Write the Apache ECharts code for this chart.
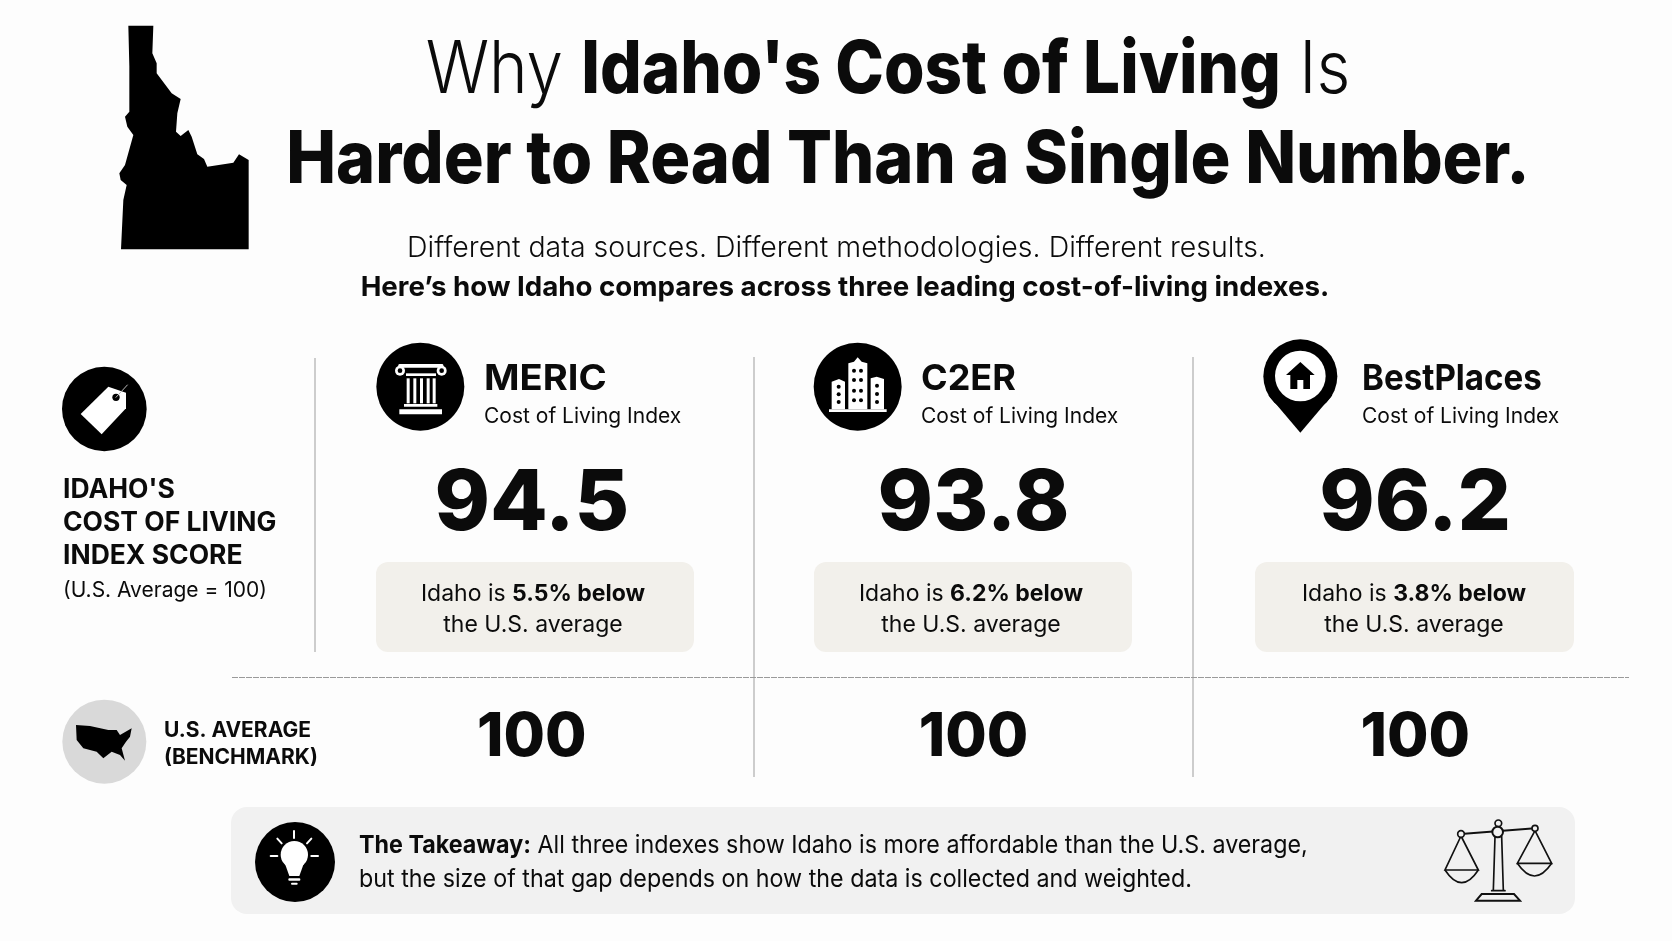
<!DOCTYPE html>
<html>
<head>
<meta charset="utf-8">
<style>
html, body { margin: 0; padding: 0; background: #fdfdfd; }
#main { width: 1672px; height: 941px; }
</style>
<script src="https://cdn.jsdelivr.net/npm/echarts@6/dist/echarts.min.js"></script>
</head>
<body>
<div id="main"></div>
<script>
var sources = ['MERIC', 'C2ER', 'BestPlaces'];
var scores = [94.5, 93.8, 96.2];
var benchmark = [100, 100, 100];
var gaps = ['5.5%', '6.2%', '3.8%'];
var rows = ['score', 'benchmark'];

var FONT = 'Inter';
var INK = '#0b0b0b';

var chart = echarts.init(document.getElementById('main'));

function txt(x, y, text, size, weight, extra) {
	var style = {
		text: text,
		fontFamily: FONT,
		fontSize: size,
		fontWeight: weight,
		fill: INK,
		align: 'left',
		verticalAlign: 'middle'
	};
	for (var k in (extra || {})) {
		style[k] = extra[k];
	}
	return { type: 'text', x: x, y: y, scaleX: (extra && extra.sx) || 1, style: style, silent: true };
}

function rect(x, y, w, h, r, fill) {
	return { type: 'rect', shape: { x: x, y: y, width: w, height: h, r: r }, style: { fill: fill }, silent: true };
}

function vline(x, y1, y2) {
	return { type: 'line', shape: { x1: x, y1: y1, x2: x, y2: y2 }, style: { stroke: '#bdbdbd', lineWidth: 1.5 }, silent: true };
}

function circle(cx, cy, r, fill) {
	return { type: 'circle', shape: { cx: cx, cy: cy, r: r }, style: { fill: fill }, silent: true };
}

function ring(cx, cy, r, color, width, fill) {
	return { type: 'circle', shape: { cx: cx, cy: cy, r: r }, style: { fill: fill, stroke: color, lineWidth: width }, silent: true };
}

function poly(points, fill) {
	return { type: 'polygon', shape: { points: points }, style: { fill: fill }, silent: true };
}

function stroke(points, color, width) {
	return { type: 'polyline', shape: { points: points }, style: { stroke: color, lineWidth: width, fill: 'none', lineCap: 'round' }, silent: true };
}

function bowl(x1, x2, y, depth, color, width) {
	return {
		type: 'bezierCurve',
		shape: { x1: x1, y1: y, x2: x2, y2: y, cpx1: (x1 + x2) / 2, cpy1: y + depth * 2 },
		style: { stroke: color, lineWidth: width, fill: 'none' },
		silent: true
	};
}

// icons are traced in crop coordinates, so the group scales them back down
function traced(x, y, children) {
	return { type: 'group', x: x, y: y, scaleX: 1 / 3, scaleY: 1 / 3, children: children };
}

var idaho = traced(90, 0, [poly([
	[115, 77], [190, 77], [187, 160], [200, 190], [200, 220], [245, 280], [272, 297], [262, 340],
	[258, 395], [272, 408], [295, 390], [305, 410], [322, 463], [342, 477], [352, 500], [430, 488],
	[447, 463], [476, 480], [476, 748], [93, 748], [100, 600], [110, 555], [92, 540], [88, 520],
	[105, 495], [130, 405], [112, 380], [105, 350], [118, 335], [118, 200]
], '#000')]);

var tagIcon = traced(40, 340, [
	circle(193, 207, 127, '#000'),
	poly([[122, 222], [205, 140], [258, 158], [258, 205], [185, 283]], '#fff'),
	circle(228, 172, 11, '#000'),
	stroke([[228, 172], [262, 135]], '#bbb', 3)
]);

var usIcon = traced(40, 340, [
	circle(193, 1205, 126, '#d9d9d9'),
	poly([
		[108, 1155], [150, 1158], [205, 1170], [230, 1170], [240, 1185], [275, 1165], [270, 1190],
		[258, 1205], [245, 1225], [255, 1262], [240, 1245], [215, 1235], [190, 1255], [170, 1235],
		[130, 1225], [110, 1200]
	], '#000')
]);

var columnIcon = traced(40, 340, [
	circle(1141, 140, 132, '#000'),
	rect(1075, 72, 135, 11, 4, '#fff'),
	circle(1080, 92, 15, '#fff'), circle(1080, 92, 7, '#000'),
	circle(1205, 92, 15, '#fff'), circle(1205, 92, 7, '#000'),
	rect(1098, 100, 90, 8, 0, '#fff'),
	rect(1100, 115, 9, 75, 0, '#fff'), rect(1120, 115, 9, 75, 0, '#fff'),
	rect(1140, 115, 9, 75, 0, '#fff'), rect(1160, 115, 9, 75, 0, '#fff'), rect(1178, 115, 9, 75, 0, '#fff'),
	rect(1092, 192, 100, 8, 0, '#fff'),
	rect(1078, 208, 128, 15, 0, '#fff')
]);

function windows(xs, ys) {
	var out = [];
	xs.forEach(function (x) {
		ys.forEach(function (y) {
			out.push(circle(x, y, 6, '#000'));
		});
	});
	return out;
}

var buildingIcon = traced(780, 330, [
	circle(233, 170, 132, '#000'),
	poly([[155, 155], [177, 147], [195, 155], [195, 238], [155, 238]], '#fff'),
	poly([[205, 100], [222, 95], [233, 82], [245, 95], [262, 100], [262, 238], [205, 238]], '#fff'),
	poly([[272, 145], [290, 140], [312, 147], [312, 238], [272, 238]], '#fff'),
	rect(147, 238, 173, 8, 0, '#fff')
].concat(windows([176], [170, 193, 216]), windows([222, 243], [122, 150, 182, 211]), windows([291], [167, 192, 216])));

var pinIcon = traced(1240, 330, [
	circle(181, 139, 111, '#000'),
	poly([[85, 195], [277, 195], [181, 308]], '#000'),
	circle(181, 138, 76, '#fff'),
	poly([[138, 135], [181, 96], [224, 135], [210, 135], [210, 177], [190, 177], [190, 150], [172, 150], [172, 177], [151, 177], [151, 135]], '#000')
]);

var bulbIcon = traced(245, 812, [
	circle(150, 150, 120, '#000'),
	circle(148, 128, 41, '#fff'),
	poly([[118, 150], [178, 150], [163, 192], [133, 192]], '#fff'),
	rect(130, 199, 36, 7, 3, '#fff'),
	rect(138, 212, 20, 6, 3, '#fff'),
	stroke([[147, 57], [147, 78]], '#fff', 6),
	stroke([[97, 80], [110, 94]], '#fff', 6),
	stroke([[199, 80], [186, 94]], '#fff', 6),
	stroke([[77, 132], [97, 132]], '#fff', 6),
	stroke([[199, 132], [219, 132]], '#fff', 6)
]);

var scaleIcon = traced(1430, 810, [
	stroke([[93, 72], [315, 55]], '#111', 6),
	stroke([[93, 78], [45, 180], [145, 180], [93, 78]], '#111', 5),
	bowl(45, 145, 180, 38, '#111', 5),
	stroke([[315, 62], [262, 160], [365, 160], [315, 62]], '#111', 5),
	bowl(262, 365, 160, 38, '#111', 5),
	stroke([[195, 80], [190, 240]], '#111', 5),
	stroke([[215, 80], [220, 240]], '#111', 5),
	stroke([[185, 242], [225, 242]], '#111', 5),
	{ type: 'polygon', shape: { points: [[155, 252], [252, 252], [270, 272], [138, 272]] }, style: { fill: '#f1f1f1', stroke: '#111', lineWidth: 6 }, silent: true },
	ring(205, 40, 10, '#111', 5, '#f1f1f1'),
	ring(203, 66, 16, '#111', 6, '#f1f1f1'),
	ring(93, 72, 10, '#111', 5, '#f1f1f1'),
	ring(315, 55, 9, '#111', 5, '#f1f1f1')
]);

var cols = [
	{ iconText: 484, sx: 1.06, box: 376, boxW: 318, mid: 533 },
	{ iconText: 921, sx: 1, box: 814, boxW: 318, mid: 971 },
	{ iconText: 1362, sx: 0.92, box: 1255, boxW: 319, mid: 1414 }
];

var graphics = [
	idaho, tagIcon, usIcon, columnIcon, buildingIcon, pinIcon,
	txt(888, 71, '{l|Why }{b|Idaho\'s Cost of Living}{l| Is}', 73, 700, {
		align: 'center', sx: 0.897,
		rich: {
			l: { fontFamily: FONT, fontSize: 73, fontWeight: 300, fill: INK },
			b: { fontFamily: FONT, fontSize: 73, fontWeight: 800, fill: INK }
		}
	}),
	txt(908, 161, 'Harder to Read Than a Single Number.', 73, 800, { align: 'center', sx: 0.912 }),
	txt(836.5, 248, 'Different data sources. Different methodologies. Different results.', 28.5, 300, { align: 'center' }),
	txt(845, 288, 'Here\u2019s how Idaho compares across three leading cost-of-living indexes.', 27.7, 700, { align: 'center' }),
	txt(63, 490, 'IDAHO\'S', 26.5, 700),
	txt(63, 523, 'COST OF LIVING', 26.5, 700),
	txt(63, 556, 'INDEX SCORE', 26.5, 700),
	txt(63, 591, '(U.S. Average = 100)', 21, 400),
	txt(164, 731, 'U.S. AVERAGE', 21, 700),
	txt(164, 758, '(BENCHMARK)', 21, 700),
	vline(315, 358, 652),
	vline(754, 357, 777),
	vline(1193, 357, 777),
	{ type: 'line', shape: { x1: 232, y1: 677.5, x2: 1629, y2: 677.5 }, style: { stroke: '#9a9a9a', lineWidth: 1, lineDash: [6, 1] }, silent: true },
	rect(231, 807, 1344, 107, 16, '#f1f1f1'),
	bulbIcon, scaleIcon,
	txt(359, 846, '{b|The Takeaway:} All three indexes show Idaho is more affordable than the U.S. average,', 24.5, 400, {
		sx: 0.95,
		rich: { b: { fontFamily: FONT, fontSize: 24.5, fontWeight: 700, fill: INK } }
	}),
	txt(359, 880, 'but the size of that gap depends on how the data is collected and weighted.', 24.5, 400, { sx: 0.95 })
];

sources.forEach(function (name, i) {
	var c = cols[i];
	graphics.push(rect(c.box, 562, c.boxW, 90, 12, '#f2f0eb'));
	graphics.push(txt(c.iconText, 379, name, 36, 700, { sx: c.sx }));
	graphics.push(txt(c.iconText, 417, 'Cost of Living Index', 21, 400));
	graphics.push(txt(c.mid, 594, 'Idaho is {b|' + gaps[i] + ' below}', 23, 400, {
		align: 'center',
		rich: { b: { fontFamily: FONT, fontSize: 23, fontWeight: 700, fill: INK } }
	}));
	graphics.push(txt(c.mid, 625, 'the U.S. average', 23, 400, { align: 'center' }));
});

function labelRow(values, row, size) {
	return {
		name: rows[row],
		type: 'scatter',
		symbolSize: 1,
		silent: true,
		itemStyle: { color: 'transparent', opacity: 1 },
		label: {
			show: true,
			position: 'inside',
			color: INK,
			fontFamily: FONT,
			fontWeight: 800,
			fontSize: size,
			formatter: function (p) {
				return row === 0 ? p.value[2].toFixed(1) : String(p.value[2]);
			}
		},
		data: values.map(function (v, i) {
			return [sources[i], rows[row], v];
		})
	};
}

chart.setOption({
	animation: false,
	backgroundColor: '#fdfdfd',
	graphic: graphics,
	grid: { left: 311, width: 1325, top: 388.5, height: 466 },
	xAxis: { type: 'category', data: sources, show: false },
	yAxis: { type: 'category', data: rows, inverse: true, show: false },
	series: [labelRow(scores, 0, 84), labelRow(benchmark, 1, 60)]
});
</script>
</body>
</html>
